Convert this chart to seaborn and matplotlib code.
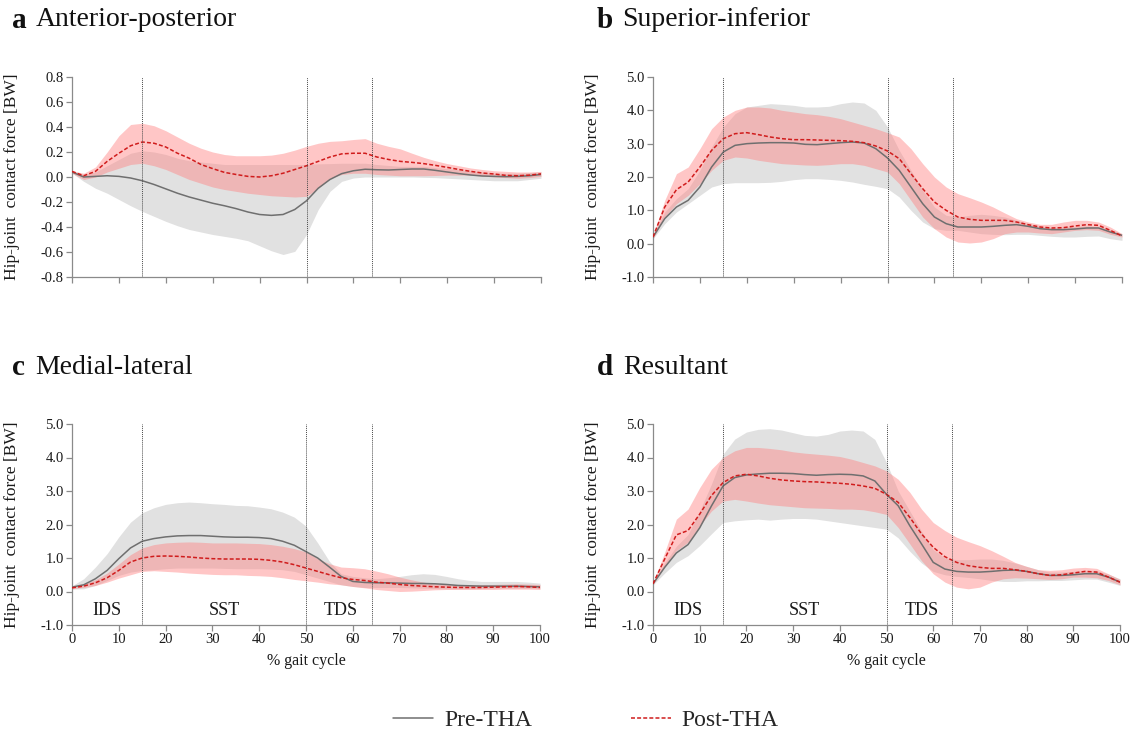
import numpy as np
import pandas as pd
import matplotlib
matplotlib.use("Agg")
import matplotlib.pyplot as plt
from matplotlib.lines import Line2D
from matplotlib.ticker import FormatStrFormatter
import seaborn as sns

# ---------------- data ----------------
gait = [0, 2.5, 5, 7.5, 10, 12.5, 15, 17.5, 20, 22.5, 25, 27.5, 30, 32.5, 35, 37.5,
        40, 42.5, 45, 47.5, 50, 52.5, 55, 57.5, 60, 62.5, 65, 67.5, 70, 72.5, 75,
        77.5, 80, 82.5, 85, 87.5, 90, 92.5, 95, 97.5, 100]
phase_lines = [15, 50, 64]
phase_labels = ["IDS", "SST", "TDS"]
phase_label_x = [7.5, 32.5, 57.5]
x_ticks = [0, 10, 20, 30, 40, 50, 60, 70, 80, 90, 100]
titles = [("a", "Anterior-posterior"), ("b", "Superior-inferior"),
          ("c", "Medial-lateral"), ("d", "Resultant")]
series_names = ["Pre-THA", "Post-THA"]

# Panel a: anterior-posterior
a_pre_mean = [0.04, 0.0, 0.005, 0.01, 0.005, -0.008, -0.03, -0.06, -0.095, -0.13, -0.16, -0.185, -0.21, -0.23, -0.253, -0.28,
              -0.30, -0.307, -0.30, -0.26, -0.19, -0.09, -0.02, 0.027, 0.05, 0.062, 0.058, 0.056, 0.06, 0.064, 0.064,
              0.053, 0.04, 0.027, 0.016, 0.008, 0.005, 0.003, 0.005, 0.01, 0.02]
a_pre_lo = [0.03, -0.035, -0.09, -0.13, -0.18, -0.23, -0.275, -0.315, -0.355, -0.39, -0.42, -0.44, -0.46, -0.475, -0.49, -0.51,
            -0.55, -0.59, -0.62, -0.595, -0.46, -0.26, -0.115, -0.035, -0.008, 0.0, 0.0, 0.0, 0.0, 0.0, -0.003,
            -0.005, -0.01, -0.015, -0.02, -0.025, -0.03, -0.03, -0.03, -0.02, -0.01]
a_pre_hi = [0.05, 0.02, 0.04, 0.09, 0.14, 0.19, 0.21, 0.2, 0.18, 0.15, 0.13, 0.12, 0.11, 0.1, 0.1, 0.1,
            0.1, 0.1, 0.1, 0.1, 0.1, 0.105, 0.107, 0.11, 0.11, 0.11, 0.1, 0.092, 0.085, 0.085, 0.085,
            0.075, 0.067, 0.058, 0.05, 0.04, 0.03, 0.03, 0.03, 0.035, 0.04]
a_post_mean = [0.045, 0.01, 0.045, 0.125, 0.19, 0.25, 0.28, 0.27, 0.24, 0.19, 0.15, 0.10, 0.067, 0.037, 0.02, 0.005,
               0.0, 0.01, 0.03, 0.06, 0.09, 0.125, 0.16, 0.185, 0.19, 0.19, 0.16, 0.14, 0.125, 0.117, 0.107,
               0.093, 0.077, 0.06, 0.045, 0.032, 0.024, 0.013, 0.01, 0.015, 0.025]
a_post_lo = [0.03, -0.02, 0.0, 0.04, 0.07, 0.1, 0.11, 0.09, 0.06, 0.02, -0.02, -0.05, -0.08, -0.1, -0.115, -0.13,
             -0.14, -0.15, -0.155, -0.16, -0.155, -0.09, -0.01, 0.02, 0.03, 0.03, 0.02, 0.015, 0.01, 0.01, 0.01,
             0.012, 0.015, 0.015, 0.015, 0.008, 0.0, -0.005, -0.01, -0.005, 0.005]
a_post_hi = [0.05, 0.03, 0.08, 0.2, 0.33, 0.42, 0.43, 0.41, 0.37, 0.32, 0.27, 0.23, 0.2, 0.18, 0.17, 0.17,
             0.17, 0.175, 0.19, 0.215, 0.245, 0.27, 0.285, 0.29, 0.30, 0.307, 0.27, 0.245, 0.225, 0.19, 0.157,
             0.13, 0.107, 0.09, 0.072, 0.06, 0.05, 0.045, 0.04, 0.04, 0.045]

# Panel b: superior-inferior
b_pre_mean = [0.2, 0.75, 1.1, 1.3, 1.7, 2.3, 2.75, 2.95, 3.0, 3.02, 3.03, 3.03, 3.02, 2.98, 2.97, 3.0,
              3.03, 3.05, 3.02, 2.85, 2.57, 2.2, 1.7, 1.2, 0.8, 0.6, 0.5, 0.5, 0.5, 0.52, 0.55,
              0.57, 0.52, 0.45, 0.42, 0.42, 0.44, 0.47, 0.47, 0.35, 0.25]
b_pre_lo = [0.15, 0.6, 0.95, 1.2, 1.45, 1.7, 1.8, 1.83, 1.83, 1.83, 1.84, 1.87, 1.92, 1.95, 1.95, 1.93,
            1.9, 1.85, 1.78, 1.72, 1.65, 1.4, 1.0, 0.65, 0.45, 0.4, 0.4, 0.35, 0.3, 0.28, 0.27,
            0.28, 0.28, 0.25, 0.22, 0.2, 0.2, 0.22, 0.23, 0.15, 0.1]
b_pre_hi = [0.25, 0.95, 1.35, 1.65, 2.2, 2.9, 3.5, 3.9, 4.1, 4.15, 4.2, 4.18, 4.15, 4.1, 4.1, 4.12,
            4.2, 4.25, 4.22, 4.0, 3.5, 2.8, 2.2, 1.6, 1.1, 0.85, 0.8, 0.85, 0.88, 0.85, 0.8,
            0.7, 0.6, 0.52, 0.48, 0.5, 0.52, 0.53, 0.52, 0.42, 0.3]
b_post_mean = [0.2, 1.1, 1.62, 1.85, 2.3, 2.8, 3.15, 3.3, 3.33, 3.27, 3.2, 3.15, 3.12, 3.12, 3.11, 3.1,
               3.09, 3.07, 3.03, 2.93, 2.78, 2.55, 2.1, 1.65, 1.25, 1.0, 0.8, 0.73, 0.7, 0.7, 0.7,
               0.65, 0.57, 0.5, 0.47, 0.48, 0.53, 0.57, 0.55, 0.4, 0.23]
b_post_lo = [0.15, 0.8, 1.2, 1.45, 1.8, 2.2, 2.5, 2.6, 2.57, 2.5, 2.45, 2.4, 2.38, 2.36, 2.35, 2.37,
             2.4, 2.4, 2.35, 2.25, 2.15, 1.8, 1.3, 0.8, 0.45, 0.2, 0.05, 0.02, 0.05, 0.15, 0.3,
             0.35, 0.35, 0.32, 0.3, 0.35, 0.4, 0.42, 0.4, 0.28, 0.2]
b_post_hi = [0.25, 1.3, 2.1, 2.3, 2.85, 3.45, 3.8, 4.0, 4.1, 4.1, 4.07, 4.0, 3.95, 3.9, 3.87, 3.82,
             3.75, 3.65, 3.55, 3.45, 3.33, 3.2, 2.85, 2.4, 2.0, 1.7, 1.5, 1.38, 1.25, 1.1, 0.92,
             0.75, 0.65, 0.58, 0.58, 0.65, 0.7, 0.7, 0.65, 0.5, 0.3]

# Panel c: medial-lateral
c_pre_mean = [0.13, 0.2, 0.38, 0.63, 0.98, 1.3, 1.5, 1.58, 1.63, 1.66, 1.67, 1.67, 1.65, 1.63, 1.62, 1.62,
              1.61, 1.58, 1.5, 1.38, 1.19, 1.0, 0.73, 0.45, 0.3, 0.27, 0.26, 0.26, 0.25, 0.24, 0.24,
              0.23, 0.21, 0.18, 0.17, 0.16, 0.16, 0.16, 0.16, 0.15, 0.14]
c_pre_lo = [0.07, 0.08, 0.18, 0.33, 0.48, 0.58, 0.63, 0.65, 0.68, 0.7, 0.7, 0.7, 0.7, 0.69, 0.68, 0.68,
            0.68, 0.67, 0.65, 0.6, 0.5, 0.4, 0.3, 0.2, 0.15, 0.12, 0.12, 0.12, 0.12, 0.11, 0.1,
            0.09, 0.08, 0.08, 0.08, 0.09, 0.1, 0.1, 0.1, 0.1, 0.1]
c_pre_hi = [0.17, 0.38, 0.73, 1.13, 1.63, 2.07, 2.35, 2.5, 2.6, 2.65, 2.67, 2.65, 2.62, 2.6, 2.57, 2.56,
            2.52, 2.47, 2.37, 2.22, 1.95, 1.45, 0.9, 0.53, 0.45, 0.41, 0.38, 0.41, 0.45, 0.5, 0.53,
            0.51, 0.45, 0.38, 0.33, 0.3, 0.3, 0.3, 0.3, 0.28, 0.25]
c_post_mean = [0.11, 0.16, 0.26, 0.41, 0.63, 0.88, 1.0, 1.05, 1.06, 1.05, 1.03, 1.0, 0.98, 0.97, 0.97, 0.97,
               0.96, 0.93, 0.88, 0.8, 0.7, 0.6, 0.5, 0.41, 0.36, 0.33, 0.28, 0.25, 0.21, 0.18, 0.16,
               0.14, 0.13, 0.12, 0.12, 0.12, 0.13, 0.14, 0.15, 0.14, 0.12]
c_post_lo = [0.08, 0.12, 0.18, 0.28, 0.4, 0.5, 0.6, 0.62, 0.6, 0.58, 0.55, 0.53, 0.51, 0.5, 0.5, 0.48,
             0.47, 0.45, 0.41, 0.36, 0.32, 0.28, 0.23, 0.2, 0.15, 0.11, 0.06, 0.03, 0.0, 0.01, 0.03,
             0.05, 0.06, 0.06, 0.06, 0.06, 0.06, 0.07, 0.07, 0.07, 0.06]
c_post_hi = [0.13, 0.22, 0.35, 0.55, 0.82, 1.1, 1.3, 1.4, 1.45, 1.47, 1.48, 1.47, 1.45, 1.45, 1.45, 1.44,
             1.43, 1.4, 1.35, 1.28, 1.18, 0.98, 0.83, 0.73, 0.71, 0.68, 0.61, 0.53, 0.43, 0.35, 0.28,
             0.23, 0.21, 0.2, 0.2, 0.2, 0.21, 0.22, 0.23, 0.22, 0.21]

# Panel d: resultant
d_pre_mean = [0.23, 0.72, 1.15, 1.4, 1.9, 2.55, 3.15, 3.4, 3.48, 3.51, 3.53, 3.53, 3.52, 3.49, 3.47, 3.49,
              3.5, 3.49, 3.45, 3.3, 2.9, 2.56, 1.96, 1.42, 0.87, 0.67, 0.6, 0.58, 0.58, 0.6, 0.63,
              0.64, 0.6, 0.53, 0.48, 0.48, 0.5, 0.53, 0.53, 0.43, 0.28]
d_pre_lo = [0.2, 0.55, 0.87, 1.07, 1.37, 1.72, 2.06, 2.11, 2.14, 2.16, 2.13, 2.16, 2.18, 2.18, 2.16, 2.11,
            2.06, 2.01, 1.96, 1.91, 1.86, 1.6, 1.2, 0.85, 0.6, 0.5, 0.45, 0.42, 0.38, 0.33, 0.3,
            0.3, 0.32, 0.32, 0.33, 0.33, 0.35, 0.37, 0.37, 0.28, 0.18]
d_pre_hi = [0.25, 0.85, 1.35, 1.7, 2.4, 3.2, 4.1, 4.55, 4.76, 4.84, 4.86, 4.82, 4.74, 4.66, 4.64, 4.69,
            4.79, 4.82, 4.79, 4.54, 3.85, 3.0, 2.4, 1.8, 1.25, 1.0, 0.95, 0.95, 0.97, 0.97, 0.93,
            0.85, 0.75, 0.65, 0.58, 0.58, 0.6, 0.62, 0.62, 0.52, 0.38]
d_post_mean = [0.23, 0.97, 1.69, 1.82, 2.31, 2.86, 3.25, 3.45, 3.5, 3.45, 3.38, 3.33, 3.3, 3.28, 3.27, 3.25,
               3.23, 3.2, 3.15, 3.08, 2.9, 2.66, 2.21, 1.72, 1.32, 1.04, 0.87, 0.77, 0.72, 0.69, 0.69,
               0.65, 0.6, 0.53, 0.48, 0.5, 0.55, 0.6, 0.58, 0.43, 0.28]
d_post_lo = [0.2, 0.75, 1.22, 1.47, 1.96, 2.4, 2.7, 2.75, 2.7, 2.64, 2.59, 2.56, 2.53, 2.5, 2.49, 2.48,
             2.46, 2.46, 2.44, 2.38, 2.3, 1.91, 1.42, 0.92, 0.53, 0.28, 0.13, 0.08, 0.13, 0.28, 0.38,
             0.41, 0.4, 0.38, 0.36, 0.38, 0.43, 0.43, 0.41, 0.33, 0.2]
d_post_hi = [0.25, 1.17, 2.16, 2.46, 3.1, 3.65, 4.0, 4.2, 4.3, 4.3, 4.27, 4.23, 4.17, 4.13, 4.1, 4.07,
             4.03, 3.95, 3.85, 3.75, 3.6, 3.35, 2.96, 2.46, 2.06, 1.82, 1.62, 1.49, 1.37, 1.22, 1.05,
             0.87, 0.75, 0.65, 0.63, 0.65, 0.7, 0.72, 0.69, 0.53, 0.36]

a_yticks = [-0.8, -0.6, -0.4, -0.2, 0.0, 0.2, 0.4, 0.6, 0.8]
bw_yticks = [-1.0, 0.0, 1.0, 2.0, 3.0, 4.0, 5.0]

panels = [
    (a_pre_mean, a_pre_lo, a_pre_hi, a_post_mean, a_post_lo, a_post_hi, a_yticks),
    (b_pre_mean, b_pre_lo, b_pre_hi, b_post_mean, b_post_lo, b_post_hi, bw_yticks),
    (c_pre_mean, c_pre_lo, c_pre_hi, c_post_mean, c_post_lo, c_post_hi, bw_yticks),
    (d_pre_mean, d_pre_lo, d_pre_hi, d_post_mean, d_post_lo, d_post_hi, bw_yticks),
]

# ---------------- style ----------------
sns.set_theme(style="ticks")
plt.rcParams["font.family"] = ["Liberation Serif", "DejaVu Serif"]
plt.rcParams["axes.unicode_minus"] = False

GRAY_BAND = "#e1e1e1"
PINK_BAND = (1.0, 0.51, 0.51)
GRAY_LINE = "#6f6f6f"
RED_LINE = "#d01c1c"
SPINE = "#8a8a8a"
TEXT = "#1a1a1a"
DASH = (0, (2.6, 1.4))

fig = plt.figure(figsize=(11.3, 7.35), dpi=100)
W, H = 1130.0, 735.0
# axes rectangles in pixels: left, top, right, bottom
rects = [(72, 77, 541, 277), (653, 77, 1122, 277),
         (72, 424, 540, 625), (653, 424, 1120, 625)]
title_pos = [((12, 36), 20), ((597, 622), 20), ((12, 35), 367), ((597, 623), 367)]

for i, (rect, data) in enumerate(zip(rects, panels)):
    l, t, r, b = rect
    ax = fig.add_axes([l / W, 1 - b / H, (r - l) / W, (b - t) / H])
    pre_m, pre_lo, pre_hi, post_m, post_lo, post_hi, yt = data
    df = pd.DataFrame({"gait": gait, "pre": pre_m, "post": post_m})

    ax.fill_between(gait, pre_lo, pre_hi, color=GRAY_BAND, lw=0, zorder=1)
    ax.fill_between(gait, post_lo, post_hi, color=PINK_BAND, alpha=0.45, lw=0, zorder=2)
    sns.lineplot(data=df, x="gait", y="pre", ax=ax, color=GRAY_LINE, lw=1.1, zorder=4)
    sns.lineplot(data=df, x="gait", y="post", ax=ax, color=RED_LINE, lw=1.1,
                 linestyle=DASH, zorder=5)

    for v in phase_lines:
        ax.axvline(v, color="#4a4a4a", lw=0.7, ls=(0, (1, 1)), zorder=6)

    ax.set_xlim(0, 100)
    ax.set_ylim(yt[0], yt[-1])
    ax.set_yticks(yt)
    ax.set_xticks(x_ticks)
    ax.yaxis.set_major_formatter(FormatStrFormatter("%.1f"))
    for s in ["top", "right"]:
        ax.spines[s].set_visible(False)
    for s in ["left", "bottom"]:
        ax.spines[s].set_color(SPINE)
        ax.spines[s].set_linewidth(0.9)
    ax.tick_params(direction="out", length=4, width=0.9, color=SPINE,
                   labelsize=10.5, labelcolor=TEXT, pad=2)

    ax.set_ylabel("Hip-joint  contact force [BW]", fontsize=12.5, color=TEXT)
    ax.yaxis.set_label_coords(-(l - (20 if l < 300 else 601)) / (r - l), 0.5)

    if i < 2:
        ax.set_xticklabels([])
        ax.set_xlabel("")
    else:
        ax.set_xlabel("% gait cycle", fontsize=11.5, color=TEXT)
        ax.xaxis.set_label_coords(0.5, -(653 - b) / (b - t))
        for lab, xl in zip(phase_labels, phase_label_x):
            ax.text(xl, -0.57, lab, fontsize=13, ha="center", va="center", color=TEXT)

    (lx, tx), ty = title_pos[i]
    letter, name = titles[i]
    fig.text(lx / W, 1 - ty / H, letter, fontsize=21, fontweight="bold", va="center",
             ha="left", color="#111111")
    fig.text(tx / W, 1 - ty / H, name, fontsize=20, va="center", ha="left", color="#111111")

handles = [Line2D([0], [0], color=GRAY_LINE, lw=1.1),
           Line2D([0], [0], color=RED_LINE, lw=1.1, ls=DASH)]
fig.legend(handles, series_names, loc="center", bbox_to_anchor=(586 / W, 1 - 720 / H),
           ncol=2, frameon=False, fontsize=17, handlelength=1.7, handletextpad=0.45,
           columnspacing=4.2)

fig.savefig("out.png", dpi=100)
